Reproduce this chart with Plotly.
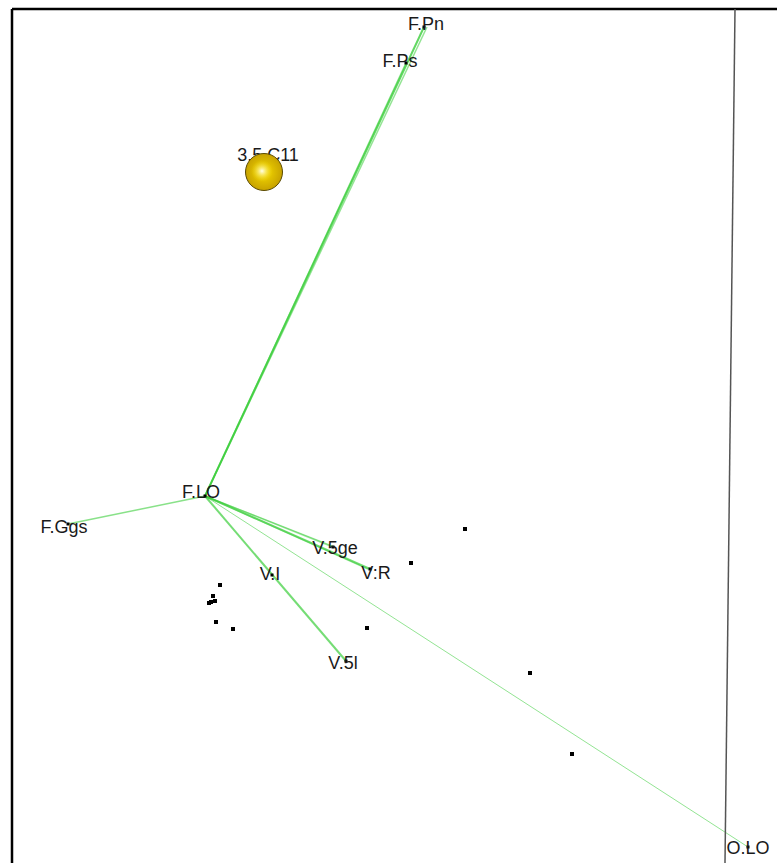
import plotly.graph_objects as go

# Node positions (screen-style coordinates, y grows downward)
node_names = ["F.Pn", "F.Ps", "F.LO", "F.Ggs", "V.5ge", "V:R", "V.I", "V.5l", "O.LO"]
node_x = [424, 406, 205, 68, 333, 370, 272, 346, 748]
node_y = [27, 63, 496, 524, 547, 569, 575, 661, 847]

# Where each name is written
label_x = [426, 400, 201, 64, 335, 376, 270, 343, 748]
label_y = [25, 62, 493, 528, 549, 574, 575, 664, 849]

# Edges from the hub node
edge_src = ["F.LO", "F.LO", "F.LO", "F.LO", "F.LO", "F.LO", "F.LO", "F.LO", "F.LO", "F.LO"]
edge_dst = ["F.Pn", "F.Pn", "F.Ps", "F.Ggs", "V.5ge", "V.5ge", "V:R", "V:R", "V.5l", "O.LO"]
edge_w = [2.0, 1.5, 1.5, 1.5, 1.5, 1.2, 2.0, 1.5, 2.0, 1.0]
edge_op = [0.8, 0.55, 0.65, 0.6, 0.55, 0.45, 0.7, 0.5, 0.7, 0.55]
edge_dx = [0, 3, 0, 0, 0, 2, 0, -2, 0, 0]

# Small scattered points
dot_x = [465, 411, 367, 530, 572, 220, 213, 211, 215, 209, 216, 233]
dot_y = [529, 563, 628, 673, 754, 585, 596, 602, 601, 603, 622, 629]

# Sphere marker
sphere_label = "3.5.C11"
sphere_x = [264]
sphere_y = [172]

pos = dict(zip(node_names, zip(node_x, node_y)))
font = dict(family="Liberation Sans, Arial", size=18, color="#1a1a1a")

fig = go.Figure()

for s, d, w, op, dx in zip(edge_src, edge_dst, edge_w, edge_op, edge_dx):
    x0, y0 = pos[s]
    x1, y1 = pos[d]
    fig.add_trace(go.Scatter(
        x=[x0, x1 + dx], y=[y0, y1], mode="lines",
        line=dict(color="#3ccf3c", width=w), opacity=op,
        hoverinfo="skip", showlegend=False))

fig.add_trace(go.Scatter(
    x=dot_x, y=dot_y, mode="markers",
    marker=dict(color="black", size=4, symbol="square"),
    hoverinfo="skip", showlegend=False))

fig.add_trace(go.Scatter(
    x=node_x, y=node_y, mode="markers",
    marker=dict(color="black", size=3, symbol="square"),
    hoverinfo="skip", showlegend=False))

fig.add_trace(go.Scatter(
    x=label_x, y=label_y, mode="text",
    text=node_names, textposition="middle center", textfont=font,
    hoverinfo="skip", showlegend=False))

fig.add_trace(go.Scatter(
    x=[sphere_x[0] + 4], y=[sphere_y[0] - 16], mode="text",
    text=[sphere_label], textposition="middle center", textfont=font,
    hoverinfo="skip", showlegend=False))

# Shaded sphere: body plus a soft highlight toward the upper left
fig.add_trace(go.Scatter(
    x=sphere_x, y=sphere_y, mode="markers",
    marker=dict(size=37, color="#c7a200",
                gradient=dict(type="radial", color="#f7dc00"),
                line=dict(color="#5a4a00", width=1)),
    hoverinfo="skip", showlegend=False))
fig.add_trace(go.Scatter(
    x=[sphere_x[0] - 2], y=[sphere_y[0] - 1], mode="markers",
    marker=dict(size=22, color="rgba(247,220,0,0)",
                gradient=dict(type="radial", color="rgba(255,255,235,1)"),
                line=dict(width=0)),
    hoverinfo="skip", showlegend=False))

# Frame and a receding edge line
fig.add_shape(type="line", xref="x", yref="y", x0=12, y0=9, x1=777, y1=9,
              line=dict(color="black", width=2.5))
fig.add_shape(type="line", xref="x", yref="y", x0=12, y0=9, x1=12, y1=863,
              line=dict(color="black", width=2.5))
fig.add_shape(type="line", xref="x", yref="y", x0=735, y0=9, x1=725, y1=863,
              line=dict(color="#555555", width=1.5))

fig.update_layout(
    width=777, height=863,
    margin=dict(l=0, r=0, t=0, b=0),
    paper_bgcolor="white", plot_bgcolor="white",
    xaxis=dict(range=[0, 777], visible=False, fixedrange=True),
    yaxis=dict(range=[863, 0], visible=False, fixedrange=True),
)

fig.write_html("out.html")
